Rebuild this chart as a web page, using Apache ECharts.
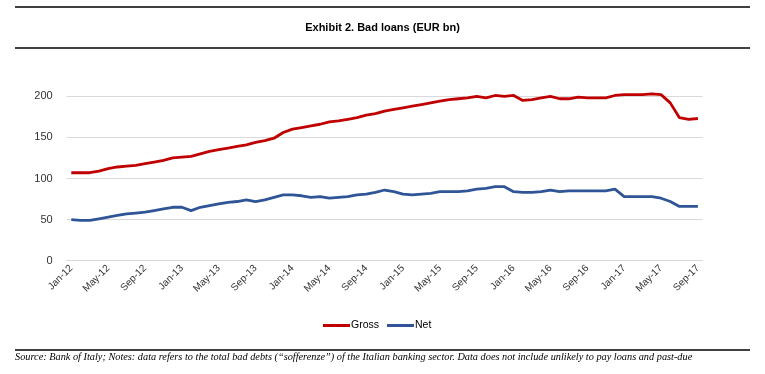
<!DOCTYPE html>
<html><head><meta charset="utf-8">
<script src="https://cdn.jsdelivr.net/npm/echarts@6/dist/echarts.min.js"></script>
<style>html,body{margin:0;padding:0;background:#fff}#c{width:765px;height:374px}</style>
</head><body><div id="c"></div>
<script>
const months = ['Jan','Feb','Mar','Apr','May','Jun','Jul','Aug','Sep','Oct','Nov','Dec'];
const categories = [];
for (let y = 12; y <= 17; y++) for (let m = 0; m < 12; m++) { if (y === 17 && m > 8) break; categories.push(months[m] + '-' + y); }
const gross = [107,107,107,109,112,114,115,116,118,120,122,125,126,127,130,133,135,137,139,141,144,146,149,156,160,162,164,166,169,170,172,174,177,179,182,184,186,188,190,192,194,196,197,198,200,198,201,200,201,195,196,198,200,197,197,199,198,198,198,201,202,202,202,203,202,192,174,172,173];
const net = [50,49,49,51,53,55,57,58,59,61,63,65,65,61,65,67,69,71,72,74,72,74,77,80,80,79,77,78,76,77,78,80,81,83,86,84,81,80,81,82,84,84,84,85,87,88,90,90,84,83,83,84,86,84,85,85,85,85,85,87,78,78,78,78,76,72,66,66,66];
const yTicks = [0,50,100,150,200];
const title = 'Exhibit 2. Bad loans (EUR bn)';
const note = 'Source: Bank of Italy; Notes: data refers to the total bad debts (\u201csofferenze\u201d) of the Italian banking sector. Data does not include unlikely to pay loans and past-due';

const chart = echarts.init(document.getElementById('c'), null, {renderer: 'canvas'});
chart.setOption({
  animation: false,
  backgroundColor: '#fff',
  title: {text: title, left: 'center', top: 17, textStyle: {fontFamily: 'Liberation Sans', fontWeight: 'bold', fontSize: 11, color: '#000'}},
  graphic: [
    {type: 'line', shape: {x1: 15, y1: 7, x2: 750, y2: 7}, style: {stroke: '#000', lineWidth: 1.5}},
    {type: 'line', shape: {x1: 15, y1: 48, x2: 750, y2: 48}, style: {stroke: '#000', lineWidth: 1.5}},
    {type: 'line', shape: {x1: 15, y1: 350, x2: 750, y2: 350}, style: {stroke: '#000', lineWidth: 1.5}},
    {type: 'text', left: 15, top: 352, style: {text: note, font: 'italic 10.3px "Liberation Serif"', fill: '#000'}}
  ],
  legend: {
    data: ['Gross', 'Net'], left: 318, top: 315, itemWidth: 27, itemHeight: 3, itemGap: 8, icon: 'rect',
    textStyle: {fontFamily: 'Liberation Sans', fontSize: 10.5, color: '#000', padding: [0, 0, 0, -4]}
  },
  grid: {left: 66.7, right: 62.5, top: 96.3, bottom: 113.3},
  xAxis: {
    type: 'category', data: categories, boundaryGap: true,
    axisLine: {lineStyle: {color: '#D9D9D9', width: 1}},
    axisTick: {interval: 3, length: 4, lineStyle: {color: '#D9D9D9'}},
    axisLabel: {interval: 3, rotate: 45, fontFamily: 'Liberation Sans', fontSize: 10, color: '#333', margin: 6}
  },
  yAxis: {
    type: 'value', min: 0, max: 200, interval: 50,
    axisLine: {show: false}, axisTick: {show: false},
    axisLabel: {fontFamily: 'Liberation Sans', fontSize: 11, color: '#333', margin: 14,
      formatter: v => yTicks.includes(v) ? String(v) : ''},
    splitLine: {lineStyle: {color: '#D9D9D9', width: 1}}
  },
  series: [
    {name: 'Gross', type: 'line', data: gross, clip: false, showSymbol: false, symbol: 'none', lineStyle: {color: '#C00000', width: 2.8}, itemStyle: {color: '#C00000'}},
    {name: 'Net', type: 'line', data: net, clip: false, showSymbol: false, symbol: 'none', lineStyle: {color: '#2F5597', width: 2.8}, itemStyle: {color: '#2F5597'}}
  ]
});
</script></body></html>
